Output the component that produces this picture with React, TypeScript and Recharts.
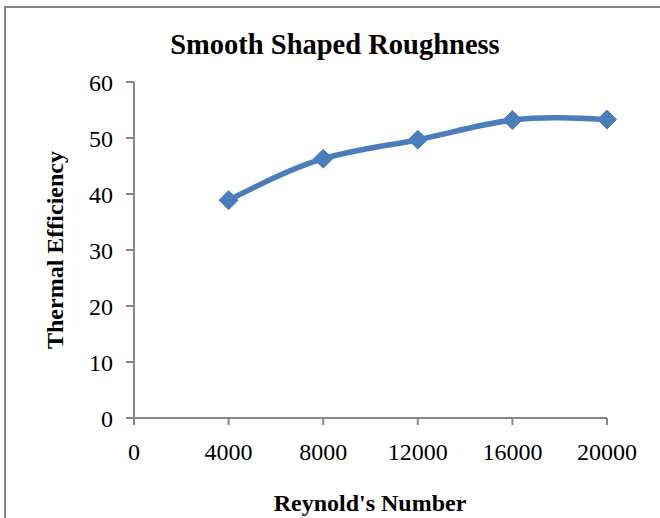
import React from 'react';
import { LineChart, Line, XAxis, YAxis } from 'recharts';

// Reynold's number (x) against thermal efficiency (%) for the smooth shaped roughness
const reynoldsNumbers = [4000, 8000, 12000, 16000, 20000];
const thermalEfficiency = [38.9, 46.3, 49.7, 53.2, 53.3];
const xTicks = [0, 4000, 8000, 12000, 16000, 20000];
const yTicks = [0, 10, 20, 30, 40, 50, 60];

const chartTitle = 'Smooth Shaped Roughness';
const xAxisTitle = "Reynold's Number";
const yAxisTitle = 'Thermal Efficiency';

const data = reynoldsNumbers.map((re, i) => ({ re, eff: thermalEfficiency[i] }));

const SERIF = '"Liberation Serif", "Times New Roman", serif';
const AXIS_GRAY = '#868686';
const SERIES_BLUE = '#4A7EBB';

const Diamond = (props: any) => {
  const { cx, cy } = props;
  if (cx == null || cy == null) return null;
  const r = 9.5;
  return (
    <polygon
      points={`${cx},${cy - r} ${cx + r},${cy} ${cx},${cy + r} ${cx - r},${cy}`}
      fill={SERIES_BLUE}
      stroke={SERIES_BLUE}
      strokeWidth={1}
    />
  );
};

export default function App() {
  return (
    <div
      style={{
        position: 'absolute',
        left: 0,
        top: 0,
        width: 660,
        height: 518,
        background: '#fff',
        overflow: 'hidden',
        fontFamily: SERIF,
      }}
    >
      {/* frame: top and left edges */}
      <div style={{ position: 'absolute', left: 4, top: 6, width: 656, height: 2, background: AXIS_GRAY }} />
      <div style={{ position: 'absolute', left: 4, top: 6, width: 2, height: 512, background: AXIS_GRAY }} />

      <div
        style={{
          position: 'absolute',
          left: 0,
          width: 670,
          top: 27,
          textAlign: 'center',
          fontSize: 28.5,
          fontWeight: 'bold',
          color: '#000',
          lineHeight: '36px',
        }}
      >
        {chartTitle}
      </div>

      <div
        style={{
          position: 'absolute',
          left: 0,
          width: 740,
          top: 488,
          textAlign: 'center',
          fontSize: 24,
          fontWeight: 'bold',
          color: '#000',
          lineHeight: '30px',
        }}
      >
        {xAxisTitle}
      </div>

      <div
        style={{
          position: 'absolute',
          left: 55,
          top: 250,
          width: 0,
          height: 0,
        }}
      >
        <div
          style={{
            position: 'absolute',
            left: -150,
            top: -15,
            width: 300,
            textAlign: 'center',
            fontSize: 24,
            fontWeight: 'bold',
            color: '#000',
            lineHeight: '30px',
            transform: 'rotate(-90deg)',
            whiteSpace: 'nowrap',
          }}
        >
          {yAxisTitle}
        </div>
      </div>

      <div style={{ position: 'absolute', left: 0, top: 0 }}>
        <LineChart
          width={660}
          height={518}
          data={data}
          margin={{ top: 82, right: 53, bottom: 70, left: 74 }}
        >
          <XAxis
            dataKey="re"
            type="number"
            domain={[0, 20000]}
            ticks={xTicks}
            interval={0}
            height={30}
            tickSize={7}
            tickMargin={18}
            stroke={AXIS_GRAY}
            strokeWidth={2}
            tick={{ fill: '#000', fontSize: 24, fontFamily: SERIF }}
            tickLine={{ stroke: AXIS_GRAY, strokeWidth: 2 }}
          />
          <YAxis
            type="number"
            domain={[0, 60]}
            ticks={yTicks}
            interval={0}
            width={60}
            tickSize={8}
            tickMargin={13}
            stroke={AXIS_GRAY}
            strokeWidth={2}
            tick={{ fill: '#000', fontSize: 24, fontFamily: SERIF }}
            tickLine={{ stroke: AXIS_GRAY, strokeWidth: 2 }}
          />
          <Line
            dataKey="eff"
            type="natural"
            stroke={SERIES_BLUE}
            strokeWidth={5.5}
            dot={<Diamond />}
            activeDot={false}
            isAnimationActive={false}
          />
        </LineChart>
      </div>
    </div>
  );
}
